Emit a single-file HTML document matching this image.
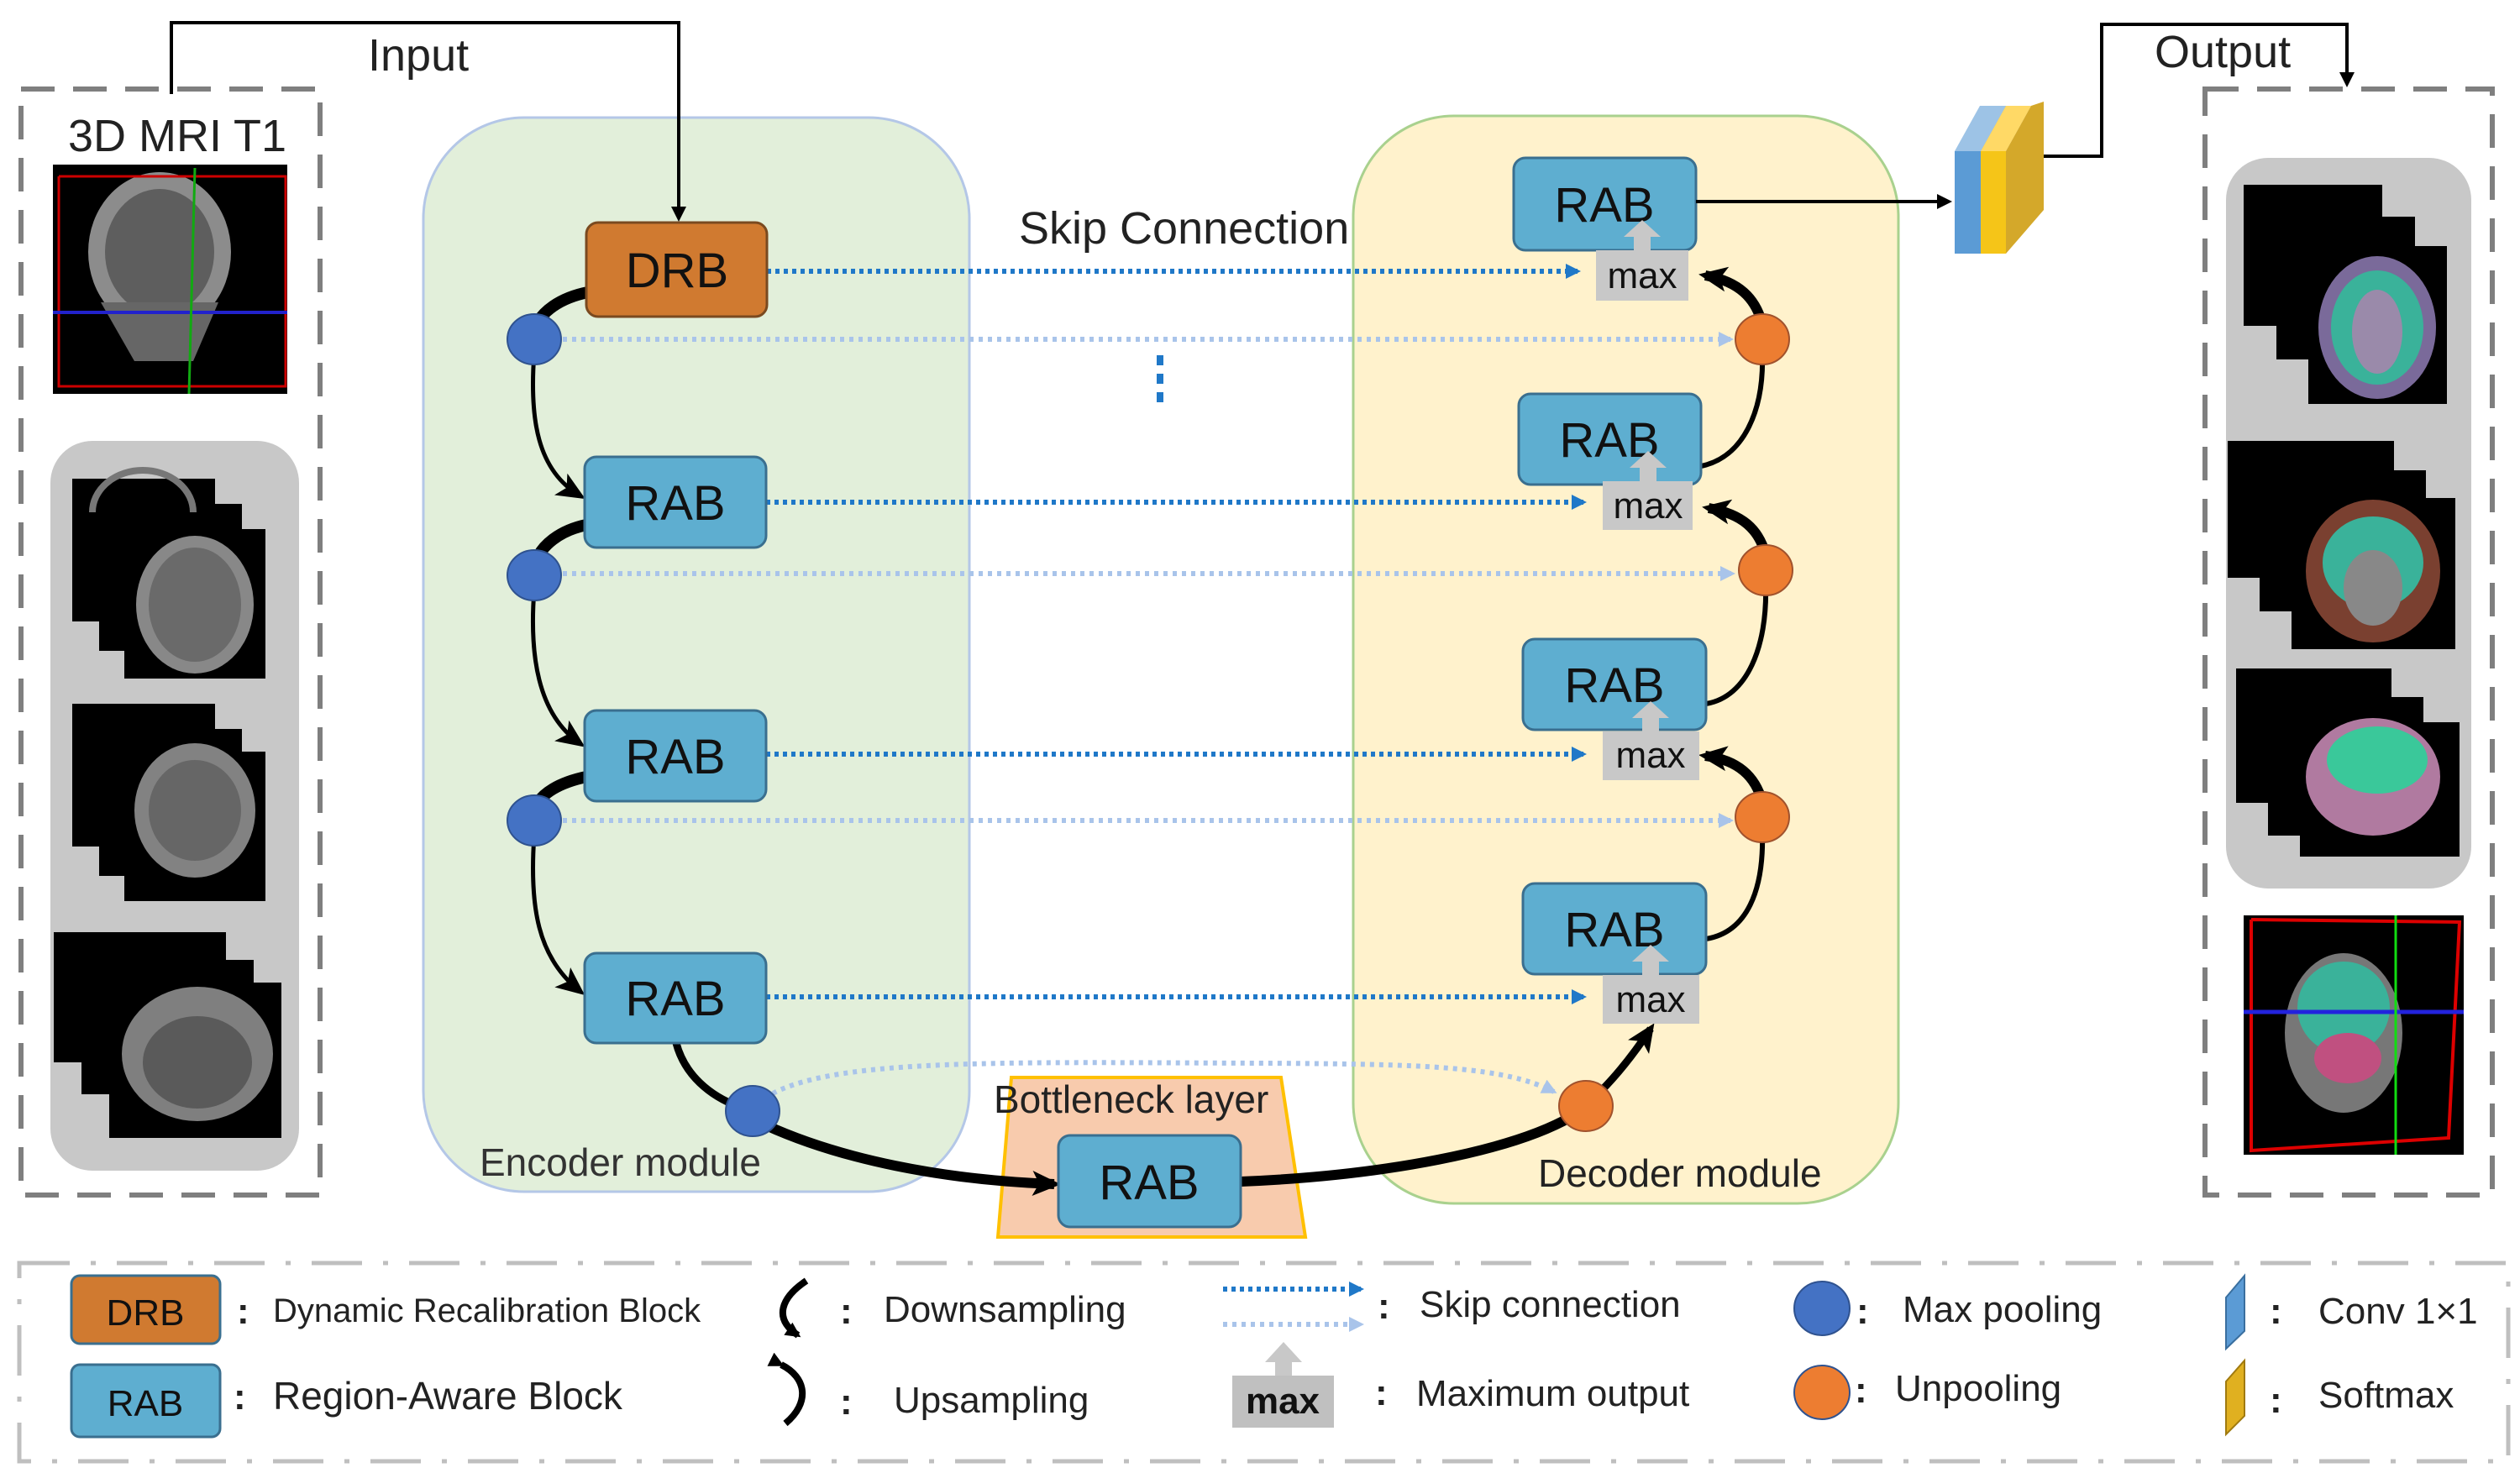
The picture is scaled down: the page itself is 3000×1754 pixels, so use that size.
<!DOCTYPE html>
<html><head><meta charset="utf-8"><style>
html,body{margin:0;padding:0;background:#fff;}
svg{display:block;}
text{font-family:"Liberation Sans",sans-serif;}
</style></head><body>
<svg width="3000" height="1754" viewBox="0 0 3000 1754" xmlns="http://www.w3.org/2000/svg">
<defs>
<marker id="abig" markerWidth="34" markerHeight="34" refX="26" refY="17" orient="auto" markerUnits="userSpaceOnUse"><path d="M0,2 L34,17 L0,32 L8,17 z" fill="#000"/></marker>
<marker id="asmall" markerWidth="18" markerHeight="18" refX="14" refY="9" orient="auto" markerUnits="userSpaceOnUse"><path d="M0,0 L18,9 L0,18 z" fill="#000"/></marker>
<marker id="bb" markerWidth="18" markerHeight="18" refX="14" refY="9" orient="auto" markerUnits="userSpaceOnUse"><path d="M0,0 L18,9 L0,18 z" fill="#1f78c8"/></marker>
<marker id="lb" markerWidth="18" markerHeight="18" refX="14" refY="9" orient="auto" markerUnits="userSpaceOnUse"><path d="M0,0 L18,9 L0,18 z" fill="#a9c4ea"/></marker>
</defs>

<rect x="25" y="106" width="356" height="1317" fill="none" stroke="#7f7f7f" stroke-width="6" stroke-dasharray="40,22"/>
<text x="81" y="180" font-size="54" fill="#222">3D MRI T1</text>
<rect x="63" y="196" width="279" height="273" fill="#000"/>
<ellipse cx="190" cy="300" rx="85" ry="95" fill="#8c8c8c"/>
<ellipse cx="190" cy="300" rx="65" ry="75" fill="#5e5e5e"/>
<path d="M120 360 L260 360 L230 430 L160 430 z" fill="#666"/>
<polyline points="70,210 340,210 340,460 70,460 70,210" fill="none" stroke="#c00" stroke-width="3"/>
<line x1="63" y1="372" x2="342" y2="372" stroke="#22c" stroke-width="4"/>
<line x1="232" y1="200" x2="225" y2="469" stroke="#1a1" stroke-width="3"/>
<rect x="60" y="525" width="296" height="869" rx="50" fill="#c8c8c8"/>
<g>
<rect x="86" y="570" width="170" height="170" fill="#000"/><rect x="118" y="600" width="170" height="175" fill="#000"/><rect x="148" y="630" width="168" height="178" fill="#000"/>
<ellipse cx="232" cy="720" rx="70" ry="82" fill="#888"/><ellipse cx="232" cy="720" rx="55" ry="68" fill="#6a6a6a"/>
<path d="M110 610 a60 50 0 0 1 120 0" fill="none" stroke="#777" stroke-width="8"/>
</g>
<g>
<rect x="86" y="838" width="170" height="170" fill="#000"/><rect x="118" y="868" width="170" height="175" fill="#000"/><rect x="148" y="895" width="168" height="178" fill="#000"/>
<ellipse cx="232" cy="965" rx="72" ry="80" fill="#828282"/><ellipse cx="232" cy="965" rx="55" ry="60" fill="#666"/>
</g>
<g>
<rect x="64" y="1110" width="205" height="155" fill="#000"/><rect x="97" y="1143" width="205" height="160" fill="#000"/><rect x="130" y="1170" width="205" height="185" fill="#000"/>
<ellipse cx="235" cy="1255" rx="90" ry="80" fill="#7f7f7f"/><ellipse cx="235" cy="1265" rx="65" ry="55" fill="#5a5a5a"/>
</g>

<text x="438" y="84" font-size="54" fill="#222">Input</text>

<rect x="504" y="140" width="650" height="1279" rx="120" fill="#e2efda" stroke="#b4c7e7" stroke-width="3"/>
<rect x="1611" y="138" width="649" height="1295" rx="120" fill="#fff2cc" stroke="#a9d18e" stroke-width="3"/>

<polyline points="204,112 204,27 808,27 808,260" fill="none" stroke="#000" stroke-width="4" marker-end="url(#asmall)"/>

<path d="M1204,1283 L1525,1283 L1554,1473 L1188,1473 z" fill="#f8cbad" stroke="#ffc000" stroke-width="4"/>
<text x="1183" y="1325" font-size="46" fill="#222">Bottleneck layer</text>
<text x="571" y="1400" font-size="46" fill="#333">Encoder module</text>
<text x="1831" y="1413" font-size="46" fill="#222">Decoder module</text>
<text x="1213" y="290" font-size="54" fill="#222">Skip Connection</text>

<g stroke="#a9c4ea" stroke-width="6" stroke-dasharray="5,6" fill="none">
<line x1="670" y1="404" x2="2060" y2="404" marker-end="url(#lb)"/>
<line x1="670" y1="683" x2="2062" y2="683" marker-end="url(#lb)"/>
<line x1="670" y1="977" x2="2060" y2="977" marker-end="url(#lb)"/>
<path d="M920 1302 C1000 1260,1200 1265,1500 1266 C1700 1267,1790 1270,1850 1300" marker-end="url(#lb)"/>
</g>
<g stroke="#1f78c8" stroke-width="6" stroke-dasharray="5,5" fill="none">
<line x1="913" y1="323" x2="1878" y2="323" marker-end="url(#bb)"/>
<line x1="912" y1="598" x2="1885" y2="598" marker-end="url(#bb)"/>
<line x1="912" y1="898" x2="1885" y2="898" marker-end="url(#bb)"/>
<line x1="912" y1="1187" x2="1885" y2="1187" marker-end="url(#bb)"/>
<line x1="1381" y1="423" x2="1381" y2="485" stroke-width="8" stroke-dasharray="12,10"/>
</g>

<g fill="none" stroke="#000">
<path d="M700 348 C665 355,645 372,638 388" stroke-width="14"/>
<path d="M636 420 C630 500,640 560,690 590" stroke-width="5" marker-end="url(#abig)"/>
<path d="M698 625 C665 632,645 650,638 668" stroke-width="14"/>
<path d="M636 702 C630 780,640 850,690 885" stroke-width="5" marker-end="url(#abig)"/>
<path d="M698 925 C665 932,645 945,638 960" stroke-width="14"/>
<path d="M636 994 C630 1080,640 1140,690 1180" stroke-width="5" marker-end="url(#abig)"/>
<path d="M805 1242 C815 1280,845 1305,880 1318" stroke-width="9"/>
<path d="M912 1340 C1000 1380,1120 1405,1255 1410" stroke-width="12" marker-end="url(#abig)"/>
<path d="M1477 1407 C1650 1400,1800 1370,1870 1330" stroke-width="12"/>
<path d="M1905 1300 C1925 1280,1945 1255,1965 1225" stroke-width="9" marker-end="url(#abig)"/>
<path d="M2098 386 C2090 355,2070 335,2030 328" stroke-width="12" marker-end="url(#abig)"/>
<path d="M2098 422 C2100 490,2075 545,2025 555" stroke-width="6"/>
<path d="M2102 661 C2094 630,2074 612,2034 605" stroke-width="12" marker-end="url(#abig)"/>
<path d="M2102 697 C2104 770,2080 830,2031 838" stroke-width="6"/>
<path d="M2098 955 C2090 925,2070 905,2030 900" stroke-width="12" marker-end="url(#abig)"/>
<path d="M2098 991 C2100 1060,2080 1110,2031 1118" stroke-width="6"/>
</g>

<g stroke="#3a6f8f" stroke-width="3">
<rect x="698" y="265" width="215" height="112" rx="14" fill="#d07a30" stroke="#7a4a20"/>
<rect x="696" y="544" width="216" height="108" rx="14" fill="#5eaed0"/>
<rect x="696" y="846" width="216" height="108" rx="14" fill="#5eaed0"/>
<rect x="696" y="1135" width="216" height="107" rx="14" fill="#5eaed0"/>
<rect x="1260" y="1352" width="217" height="109" rx="14" fill="#5eaed0"/>
<rect x="1802" y="188" width="217" height="110" rx="14" fill="#5eaed0"/>
<rect x="1808" y="469" width="217" height="108" rx="14" fill="#5eaed0"/>
<rect x="1813" y="761" width="218" height="108" rx="14" fill="#5eaed0"/>
<rect x="1813" y="1052" width="218" height="108" rx="14" fill="#5eaed0"/>
</g>
<g font-size="58" fill="#111" text-anchor="middle">
<text x="806" y="342">DRB</text>
<text x="804" y="619">RAB</text>
<text x="804" y="921">RAB</text>
<text x="804" y="1209">RAB</text>
<text x="1368" y="1428">RAB</text>
<text x="1910" y="264">RAB</text>
<text x="1916" y="544">RAB</text>
<text x="1922" y="836">RAB</text>
<text x="1922" y="1127">RAB</text>
</g>
<g fill="#c8c8c8">
<path d="M1945 298 L1945 282 L1933 282 L1955 262 L1977 282 L1965 282 L1965 298 z"/>
<rect x="1900" y="298" width="110" height="60"/>
<path d="M1952 573 L1952 557 L1940 557 L1962 537 L1984 557 L1972 557 L1972 573 z"/>
<rect x="1908" y="573" width="107" height="58"/>
<path d="M1955 871 L1955 855 L1943 855 L1965 835 L1987 855 L1975 855 L1975 871 z"/>
<rect x="1908" y="871" width="115" height="58"/>
<path d="M1955 1161 L1955 1145 L1943 1145 L1965 1125 L1987 1145 L1975 1145 L1975 1161 z"/>
<rect x="1908" y="1161" width="115" height="58"/>
</g>
<g font-size="44" fill="#111" text-anchor="middle">
<text x="1955" y="343">max</text>
<text x="1962" y="617">max</text>
<text x="1965" y="914">max</text>
<text x="1965" y="1205">max</text>
</g>

<g fill="#4472c4" stroke="#2f528f" stroke-width="2">
<ellipse cx="636" cy="404" rx="32" ry="30"/>
<ellipse cx="636" cy="685" rx="32" ry="30"/>
<ellipse cx="636" cy="977" rx="32" ry="30"/>
<ellipse cx="896" cy="1323" rx="32" ry="30"/>
</g>
<g fill="#ed7d31" stroke="#a0522d" stroke-width="2">
<ellipse cx="2098" cy="404" rx="32" ry="30"/>
<ellipse cx="2102" cy="679" rx="32" ry="30"/>
<ellipse cx="2098" cy="973" rx="32" ry="30"/>
<ellipse cx="1888" cy="1317" rx="32" ry="30"/>
</g>

<line x1="2019" y1="240" x2="2320" y2="240" stroke="#000" stroke-width="4" marker-end="url(#asmall)"/>
<path d="M2327 180 L2357 126 L2388 126 L2358 180 z" fill="#9dc3e6"/>
<rect x="2327" y="180" width="31" height="122" fill="#5b9bd5"/>
<path d="M2358 302 L2358 180 L2388 126 L2388 250 z" fill="#4a85c0"/>
<path d="M2358 180 L2388 126 L2418 126 L2388 180 z" fill="#ffd966"/>
<rect x="2358" y="180" width="30" height="122" fill="#f5c518"/>
<path d="M2388 302 L2388 180 L2418 126 L2433 121 L2433 250 z" fill="#d4a82a"/>
<polyline points="2433,186 2502,186 2502,29 2794,29 2794,100" fill="none" stroke="#000" stroke-width="4" marker-end="url(#asmall)"/>
<text x="2565" y="80" font-size="54" fill="#222">Output</text>

<rect x="2625" y="106" width="342" height="1317" fill="none" stroke="#7f7f7f" stroke-width="6" stroke-dasharray="40,22"/>
<rect x="2650" y="188" width="292" height="870" rx="50" fill="#c8c8c8"/>
<g>
<rect x="2671" y="220" width="165" height="168" fill="#000"/><rect x="2710" y="258" width="165" height="170" fill="#000"/><rect x="2748" y="293" width="165" height="188" fill="#000"/>
<ellipse cx="2830" cy="390" rx="70" ry="85" fill="#7a6a9a"/><ellipse cx="2830" cy="390" rx="55" ry="68" fill="#3ab29a"/><ellipse cx="2830" cy="395" rx="30" ry="50" fill="#9a8aaa"/>
</g>
<g>
<rect x="2652" y="525" width="198" height="163" fill="#000"/><rect x="2690" y="560" width="198" height="168" fill="#000"/><rect x="2728" y="593" width="195" height="180" fill="#000"/>
<ellipse cx="2825" cy="680" rx="80" ry="85" fill="#7a4030"/><ellipse cx="2825" cy="670" rx="60" ry="55" fill="#3ab29a"/><ellipse cx="2825" cy="700" rx="35" ry="45" fill="#888"/>
</g>
<g>
<rect x="2662" y="796" width="185" height="160" fill="#000"/><rect x="2700" y="830" width="185" height="165" fill="#000"/><rect x="2738" y="860" width="190" height="160" fill="#000"/>
<ellipse cx="2825" cy="925" rx="80" ry="70" fill="#b07aa0"/><ellipse cx="2830" cy="905" rx="60" ry="40" fill="#3ac89a"/>
</g>
<rect x="2671" y="1090" width="262" height="285" fill="#000"/>
<polyline points="2680,1095 2928,1098 2915,1355 2680,1370 2680,1095" fill="none" stroke="#d00" stroke-width="4"/>
<ellipse cx="2790" cy="1230" rx="70" ry="95" fill="#777"/><ellipse cx="2790" cy="1200" rx="55" ry="55" fill="#3ab29a"/><ellipse cx="2795" cy="1260" rx="40" ry="30" fill="#c05080"/>
<line x1="2671" y1="1205" x2="2933" y2="1205" stroke="#22d" stroke-width="5"/>
<line x1="2852" y1="1090" x2="2852" y2="1375" stroke="#1d1" stroke-width="3"/>

<rect x="23" y="1504" width="2963" height="236" fill="none" stroke="#bfbfbf" stroke-width="5" stroke-dasharray="60,25,6,25"/>
<rect x="85" y="1519" width="177" height="81" rx="10" fill="#d07a30" stroke="#3a6f8f" stroke-width="3"/>
<text x="173" y="1578" font-size="44" text-anchor="middle" fill="#111">DRB</text>
<rect x="85" y="1625" width="177" height="86" rx="10" fill="#5eaed0" stroke="#3a6f8f" stroke-width="3"/>
<text x="173" y="1686" font-size="44" text-anchor="middle" fill="#111">RAB</text>
<g font-size="44" fill="#222">
<text x="282" y="1576" font-weight="bold">:</text>
<text x="325" y="1574" font-size="40">Dynamic Recalibration Block</text>
<text x="278" y="1678" font-weight="bold">:</text>
<text x="325" y="1678" font-size="46">Region-Aware Block</text>
<text x="1000" y="1576" font-weight="bold">:</text>
<text x="1052" y="1574">Downsampling</text>
<text x="1000" y="1684" font-weight="bold">:</text>
<text x="1064" y="1682">Upsampling</text>
<text x="1640" y="1570" font-weight="bold">:</text>
<text x="1690" y="1568">Skip connection</text>
<text x="1637" y="1673" font-weight="bold">:</text>
<text x="1686" y="1674">Maximum output</text>
<text x="2210" y="1576" font-weight="bold">:</text>
<text x="2265" y="1574">Max pooling</text>
<text x="2208" y="1670" font-weight="bold">:</text>
<text x="2256" y="1668">Unpooling</text>
<text x="2702" y="1576" font-weight="bold">:</text>
<text x="2760" y="1576">Conv 1×1</text>
<text x="2702" y="1682" font-weight="bold">:</text>
<text x="2760" y="1676">Softmax</text>
</g>
<path d="M960 1525 C930 1545,920 1570,950 1590" fill="none" stroke="#000" stroke-width="8" marker-end="url(#asmall)"/>
<path d="M930 1625 C960 1640,965 1670,935 1695" fill="none" stroke="#000" stroke-width="8" marker-start="url(#asmall)"/>
<line x1="1456" y1="1535" x2="1620" y2="1535" stroke="#1f78c8" stroke-width="6" stroke-dasharray="5,5" marker-end="url(#bb)"/>
<line x1="1456" y1="1577" x2="1620" y2="1577" stroke="#a9c4ea" stroke-width="6" stroke-dasharray="5,6" marker-end="url(#lb)"/>
<path d="M1518 1638 L1518 1622 L1506 1622 L1528 1598 L1550 1622 L1538 1622 L1538 1638 z" fill="#c8c8c8"/>
<rect x="1467" y="1638" width="121" height="62" fill="#c0c0c0"/>
<text x="1527" y="1683" font-size="44" text-anchor="middle" fill="#111" font-weight="bold">max</text>
<ellipse cx="2169" cy="1558" rx="33" ry="32" fill="#4472c4" stroke="#2f528f" stroke-width="2"/>
<ellipse cx="2169" cy="1658" rx="33" ry="32" fill="#ed7d31" stroke="#2f528f" stroke-width="2"/>
<path d="M2650 1545 L2672 1519 L2672 1585 L2650 1606 z" fill="#5b9bd5" stroke="#3a6f9f" stroke-width="2"/>
<path d="M2650 1645 L2672 1620 L2672 1686 L2650 1708 z" fill="#e0b020" stroke="#a07a10" stroke-width="2"/>
</svg>
</body></html>
